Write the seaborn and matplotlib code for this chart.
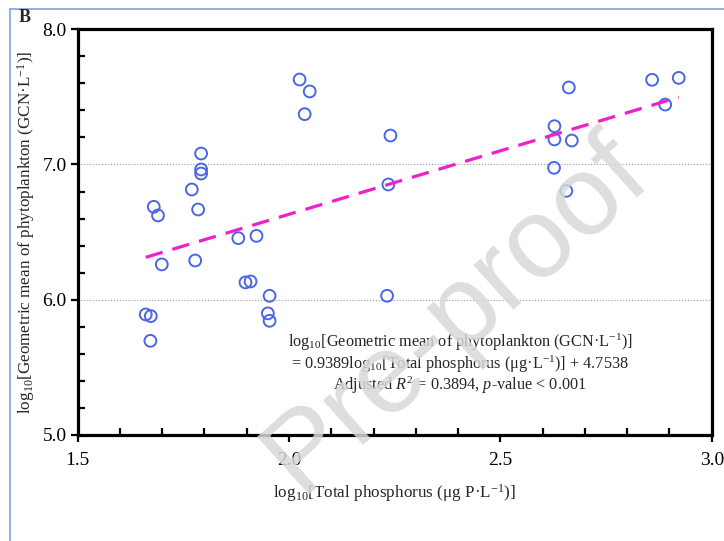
import numpy as np
import pandas as pd
import matplotlib
matplotlib.use("Agg")
import matplotlib.pyplot as plt
from matplotlib.ticker import MultipleLocator, FormatStrFormatter
from matplotlib.lines import Line2D
import seaborn as sns

# --- Data (log10 values) ---
log_tp = [1.661, 1.673, 1.672, 1.680, 1.690, 1.699, 1.770, 1.792, 1.792, 1.792,
          1.785, 1.778, 1.880, 1.923, 1.897, 1.909, 1.954, 1.950, 1.954, 2.037,
          2.025, 2.049, 2.240, 2.235, 2.232, 2.662, 2.859, 2.922, 2.890, 2.628,
          2.628, 2.669, 2.627, 2.656]
log_phyto = [5.891, 5.879, 5.696, 6.687, 6.623, 6.261, 6.815, 7.081, 6.963, 6.933,
             6.667, 6.290, 6.455, 6.472, 6.128, 6.135, 6.029, 5.899, 5.844, 7.372,
             7.628, 7.540, 7.214, 6.852, 6.029, 7.569, 7.626, 7.640, 7.443, 7.283,
             7.185, 7.177, 6.975, 6.805]

# regression reported in the figure
SLOPE = 0.9389
INTERCEPT = 4.7538

POINT_COLOR = "#4a66e6"
LINE_COLOR = "#f020c8"

sns.set_style("ticks")
plt.rcParams['font.family'] = ['Liberation Serif', 'DejaVu Serif']
plt.rcParams['mathtext.fontset'] = 'custom'
plt.rcParams['mathtext.rm'] = 'Liberation Serif'
plt.rcParams['mathtext.it'] = 'Liberation Serif:italic'
plt.rcParams['mathtext.bf'] = 'Liberation Serif:bold'

df = pd.DataFrame({'tp': log_tp, 'phyto': log_phyto})
fit_x = np.array([df['tp'].min(), df['tp'].max()])
fit_df = pd.DataFrame({'tp': fit_x, 'phyto': SLOPE * fit_x + INTERCEPT})

fig = plt.figure(figsize=(7.24, 5.41), dpi=100)
ax = fig.add_axes([0.1073, 0.196, 0.8757, 0.750])

ax.yaxis.grid(True, linestyle=':', color='#9a9a9a', linewidth=0.8)
ax.set_axisbelow(True)

sns.scatterplot(data=df, x='tp', y='phyto', ax=ax, marker='o', s=72,
                facecolors='none', edgecolor=POINT_COLOR, linewidth=1.4, zorder=3)
sns.lineplot(data=fit_df, x='tp', y='phyto', ax=ax, color=LINE_COLOR,
             linewidth=2.3, dashes=False, zorder=4)
ax.lines[-1].set_dashes((5.5, 3.2))

ax.set_xlim(1.5, 3.0)
ax.set_ylim(5.0, 8.0)
ax.xaxis.set_major_locator(MultipleLocator(0.5))
ax.xaxis.set_minor_locator(MultipleLocator(0.1))
ax.yaxis.set_major_locator(MultipleLocator(1.0))
ax.yaxis.set_minor_locator(MultipleLocator(0.2))
ax.xaxis.set_major_formatter(FormatStrFormatter('%.1f'))
ax.yaxis.set_major_formatter(FormatStrFormatter('%.1f'))

ax.tick_params(which='major', direction='out', length=5, width=1.6,
               labelsize=14, color='black', labelcolor='black', pad=3)
ax.tick_params(which='minor', direction='in', length=5, width=1.6, color='black')
ax.tick_params(axis='x', which='major', pad=7)
for side in ['left', 'right', 'top', 'bottom']:
    ax.spines[side].set_visible(True)
    ax.spines[side].set_linewidth(2.3)
    ax.spines[side].set_color('black')

ax.set_xlabel(r'log$_{10}$[Total phosphorus (μg P·L$^{-1}$)]', fontsize=12.3, labelpad=10)
ax.set_ylabel(r'log$_{10}$[Geometric mean of phytoplankton (GCN·L$^{-1}$)]',
              fontsize=12.3, labelpad=4)

eq_text = (r'log$_{10}$[Geometric mean of phytoplankton (GCN·L$^{-1}$)]' + '\n'
           r'= 0.9389log$_{10}$[Total phosphorus (μg·L$^{-1}$)] + 4.7538' + '\n'
           r'Adjusted $R^2$ = 0.3894, $p$-value < 0.001')
ax.text(0.603, 0.175, eq_text, transform=ax.transAxes, ha='center', va='center',
        fontsize=11.7, linespacing=1.0, zorder=5)

# panel letter and page frame
fig.text(0.026, 0.968, 'B', fontsize=13, fontweight='bold', ha='left', va='center')
fig.add_artist(Line2D([10 / 724, 1.0], [1 - 9 / 541, 1 - 9 / 541],
                      transform=fig.transFigure, color='#7fa3e0', linewidth=1.2))
fig.add_artist(Line2D([10 / 724, 10 / 724], [0.0, 1 - 9 / 541],
                      transform=fig.transFigure, color='#7fa3e0', linewidth=1.2))

# watermark
fig.text(0.63, 0.42, 'Pre-proof', fontsize=82, family='Liberation Sans',
         color='#d8d8d8', alpha=0.85, rotation=42, ha='center', va='center', zorder=10)

fig.savefig('out.png', dpi=100)
